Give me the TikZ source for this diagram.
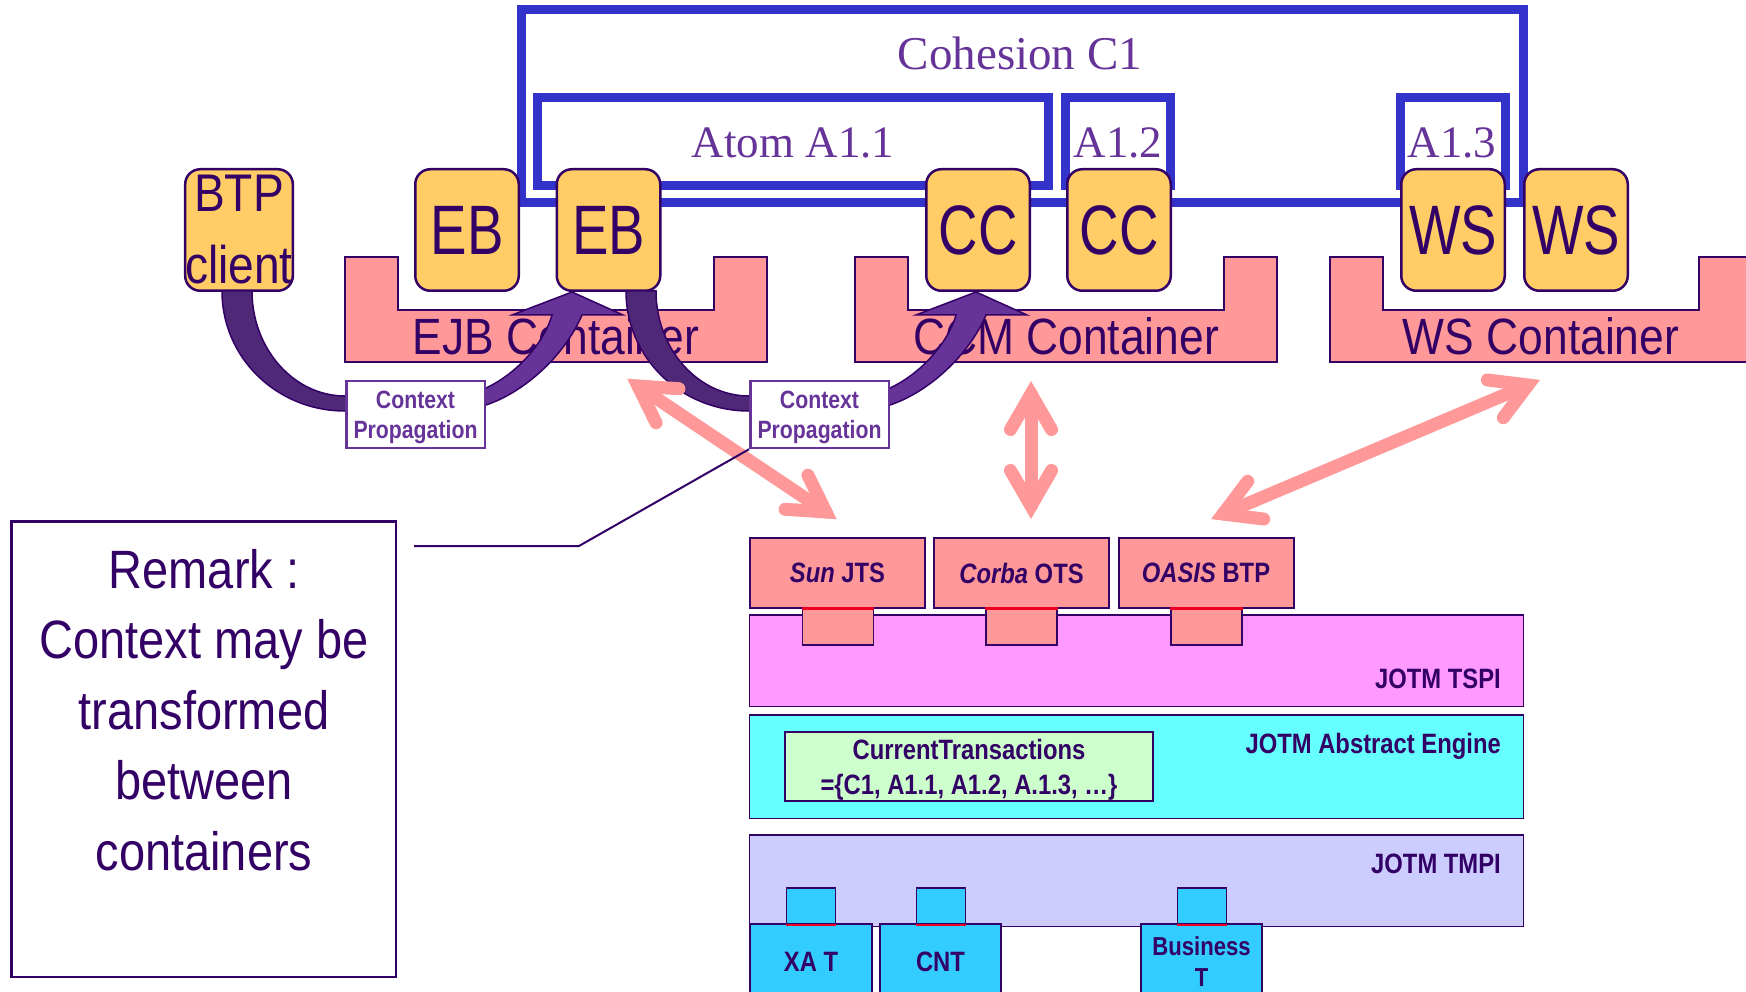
\documentclass[tikz,border=0pt]{standalone}
\usepackage{fontspec}
\setmainfont{Liberation Sans}
\newfontfamily\bigsans[FakeStretch=0.78]{Liberation Sans}
\newfontfamily\midsans[FakeStretch=0.87]{Liberation Sans}
\newfontfamily\smallsans[FakeStretch=0.85]{Liberation Sans}
\newfontfamily\titleserif{Liberation Serif}
\usetikzlibrary{calc}

\definecolor{cdark}{HTML}{330066}
\definecolor{cpurple}{HTML}{663399}
\definecolor{cband}{HTML}{502878}
\definecolor{cblue}{HTML}{3333CC}
\definecolor{cyellow}{HTML}{FFCC66}
\definecolor{cpink}{HTML}{FF9999}
\definecolor{cmagenta}{HTML}{FF99FF}
\definecolor{ccyan}{HTML}{66FFFF}
\definecolor{clavender}{HTML}{CCCCFF}
\definecolor{cgreen}{HTML}{CCFFCC}
\definecolor{csky}{HTML}{33CCFF}
\definecolor{cred}{HTML}{EE0022}

\begin{document}
\begin{tikzpicture}[x=1pt,y=-1pt,
  blueframe/.style={draw=cblue, line width=9pt, inner sep=0pt},
  seriflabel/.style={anchor=base, inner sep=0pt, text=cpurple,
    font=\titleserif\fontsize{45}{50}\selectfont},
  ybox/.style={rectangle, rounded corners=15pt, fill=cyellow, draw=cdark,
    line width=2.5pt, minimum width=103.5pt, minimum height=121.5pt,
    inner sep=0pt, text=cdark, font=\bigsans\fontsize{70}{80}\selectfont},
  container/.style={fill=cpink, draw=cdark, line width=2.5pt},
  contlabel/.style={anchor=base, inner sep=0pt, text=cdark,
    font=\midsans\fontsize{51}{60}\selectfont},
  banddark/.style={fill=cband, draw=cdark, line width=1.5pt},
  bandlight/.style={fill=cpurple, draw=cdark, line width=1.5pt},
  ctxbox/.style={draw=cpurple, line width=2.5pt, fill=white,
    minimum width=138.5pt, minimum height=67pt, inner sep=0pt, align=center,
    text=cpurple, font=\smallsans\bfseries\fontsize{25}{30}\selectfont},
  pinkarr/.style={draw=cpink, line width=13pt, line cap=round, line join=miter},
  protobox/.style={fill=cpink, draw=cdark, line width=2pt,
    minimum width=175pt, minimum height=70pt, inner sep=0pt, text=cdark,
    font=\smallsans\bfseries\fontsize{28}{34}\selectfont},
  plugtab/.style={draw=cdark, line width=1.5pt, inner sep=0pt},
  redline/.style={draw=cred, line width=2.5pt},
  layer/.style={draw=cdark, line width=1.5pt, minimum width=774pt, inner sep=0pt},
  layerlabel/.style={anchor=base east, inner sep=0pt, text=cdark,
    font=\smallsans\bfseries\fontsize{28}{34}\selectfont},
  bottombox/.style={fill=csky, draw=cdark, line width=2pt, minimum height=76pt,
    inner sep=0pt, align=center, text=cdark,
    font=\smallsans\bfseries\fontsize{28}{31}\selectfont},
  connector/.style={draw=cdark, line width=2pt}
]
\useasboundingbox (0,0) rectangle (1746,992);
\clip (0,0) rectangle (1746,992);

% ---------- cohesion and atoms ----------
\node[blueframe, minimum width=1002pt, minimum height=193pt] (coh) at (1022.5,106) {};
\node[blueframe, minimum width=511pt, minimum height=88pt] (atom11) at (793,141.5) {};
\node[blueframe, minimum width=105pt, minimum height=88pt] (atom12) at (1118,141.5) {};
\node[blueframe, minimum width=105pt, minimum height=88pt] (atom13) at (1453,141.5) {};
\node[seriflabel, font=\titleserif\fontsize{47}{52}\selectfont] (cohlabel) at (1020,70) {Cohesion C1};
\node[seriflabel] (atom11label) at (793,158) {Atom A1.1};
\node[seriflabel] (atom12label) at (1118,158) {A1.2};
\node[seriflabel] (atom13label) at (1452,158) {A1.3};

% ---------- containers ----------
\path[container] (345,257) -- (398,257) -- (398,310) -- (714,310) -- (714,257)
  -- (767,257) -- (767,362) -- (345,362) -- cycle;
\path[container] (855,257) -- (908,257) -- (908,310) -- (1224,310) -- (1224,257)
  -- (1277,257) -- (1277,362) -- (855,362) -- cycle;
\path[container] (1330,257) -- (1383,257) -- (1383,310) -- (1699,310) -- (1699,257)
  -- (1752,257) -- (1752,362) -- (1330,362) -- cycle;
\node[contlabel] (ejblabel) at (556,355) {EJB Container};
\node[contlabel] (ccmlabel) at (1066,355) {CCM Container};
\node[contlabel] (wslabel) at (1541,355) {WS Container};

% ---------- components ----------
\node[ybox, align=center, font=\midsans\fontsize{53}{72}\selectfont] (btp) at (239,230) {BTP\\client};
\node[ybox] (eb1) at (467,230) {EB};
\node[ybox] (eb2) at (608.5,230) {EB};
\node[ybox] (cc1) at (978,230) {CC};
\node[ybox] (cc2) at (1119,230) {CC};
\node[ybox] (ws1) at (1453,230) {WS};
\node[ybox] (ws2) at (1576,230) {WS};

% ---------- context propagation bands ----------
\path[banddark] (222,291) .. controls (222,358) and (277,411) .. (345,411)
  -- (355,411) -- (355,396) -- (345,396)
  .. controls (294,396) and (252,349) .. (252,291) -- cycle;
\path[bandlight] (476,388) -- (486,388) .. controls (520,372) and (545,340) .. (552,315)
  -- (512,315) -- (572,292) -- (623,315) -- (582,315)
  .. controls (565,355) and (525,392) .. (486,405) -- (476,405) -- cycle;
\path[banddark] (626,291) .. controls (626,358) and (681,411) .. (749,411)
  -- (759,411) -- (759,396) -- (749,396)
  .. controls (698,396) and (656,349) .. (656,291) -- cycle;
\path[bandlight] (880,388) -- (890,388) .. controls (924,372) and (949,340) .. (956,315)
  -- (916,315) -- (976,292) -- (1027,315) -- (986,315)
  .. controls (969,355) and (929,392) .. (890,405) -- (880,405) -- cycle;

\node[ctxbox] (cp1) at (415.5,414.5) {\rule{0pt}{24pt}Context\\Propagation};
\node[ctxbox] (cp2) at (819.5,414.5) {\rule{0pt}{24pt}Context\\Propagation};

% ---------- transaction layers ----------
\node[layer, fill=cmagenta, minimum height=91.5pt] (tspi) at (1136.5,660.5) {};
\node[layerlabel] (tspilabel) at (1501,688) {JOTM TSPI};

\node[protobox] (sun) at (837.5,573) {\textit{Sun} JTS};
\node[protobox] (corba) at (1021.5,573) {\textit{Corba} OTS};
\node[protobox] (oasis) at (1206,573) {\textit{OASIS} BTP};
\node[plugtab, fill=cpink, minimum width=71pt, minimum height=36pt] (suntab) at (838,627) {};
\node[plugtab, fill=cpink, minimum width=71pt, minimum height=36pt] (corbatab) at (1021.5,627) {};
\node[plugtab, fill=cpink, minimum width=71pt, minimum height=36pt] (oasistab) at (1206.5,627) {};
\draw[redline] (suntab.north west) -- (suntab.north east);
\draw[redline] (corbatab.north west) -- (corbatab.north east);
\draw[redline] (oasistab.north west) -- (oasistab.north east);

\node[layer, fill=ccyan, minimum height=103.5pt] (engine) at (1136.5,766.5) {};
\node[layerlabel] (enginelabel) at (1501,753) {JOTM Abstract Engine};
\node[draw=cdark, line width=2.5pt, fill=cgreen, minimum width=368pt,
  minimum height=69pt, inner sep=0pt, align=center, text=cdark,
  font=\smallsans\bfseries\fontsize{28}{35}\selectfont] (current) at (969,766.5)
  {\rule{0pt}{26.5pt}CurrentTransactions\\={\char`\{}C1, A1.1, A1.2, A.1.3, \ldots{\char`\}}};

\node[layer, fill=clavender, minimum height=91.5pt] (tmpi) at (1136.5,880.5) {};
\node[layerlabel] (tmpilabel) at (1501,873) {JOTM TMPI};
\node[plugtab, fill=csky, minimum width=49pt, minimum height=36pt] (xatab) at (811,906) {};
\node[plugtab, fill=csky, minimum width=49pt, minimum height=36pt] (cnttab) at (941,906) {};
\node[plugtab, fill=csky, minimum width=49pt, minimum height=36pt] (biztab) at (1202,906) {};
\node[bottombox, minimum width=122pt] (xat) at (811,962) {XA T};
\node[bottombox, minimum width=121pt] (cnt) at (940.5,962) {CNT};
\node[bottombox, minimum width=121pt, font=\smallsans\bfseries\fontsize{26}{31}\selectfont] (biz) at (1201.5,962) {Business\\T};
\draw[redline] (xatab.south west) -- (xatab.south east);
\draw[redline] (cnttab.south west) -- (cnttab.south east);
\draw[redline] (biztab.south west) -- (biztab.south east);

% ---------- container / protocol links ----------
\coordinate (ejbend) at (638,386);
\coordinate (sunend) at (826,512);
\coordinate (ccmend) at (1031,394);
\coordinate (corbaend) at (1031,506);
\coordinate (wsend) at (1528,385);
\coordinate (oasisend) at (1223,514);
\foreach \a/\b in {ejbend/sunend, ccmend/corbaend, wsend/oasisend}{
  \draw[pinkarr] (\a) -- (\b);
  \draw[pinkarr] ($(\a)!41pt!30:(\b)$) -- (\a) -- ($(\a)!41pt!-30:(\b)$);
  \draw[pinkarr] ($(\b)!41pt!30:(\a)$) -- (\b) -- ($(\b)!41pt!-30:(\a)$);
}

% ---------- remark ----------
\node[draw=cdark, line width=2.5pt, minimum width=384.5pt, minimum height=455.5pt,
  inner sep=0pt] (remark) at (203.5,749) {};
\node[anchor=north, inner sep=0pt, align=center, text=cdark,
  font=\midsans\fontsize{54}{70.5}\selectfont] (remarktext) at (204,549)
  {Remark :\\Context may be\\transformed\\between\\containers};
\coordinate (remarkend) at (414,546);
\draw[connector] (remarkend) -- (579,546) -- (cp2.south west);
\end{tikzpicture}
\end{document}
